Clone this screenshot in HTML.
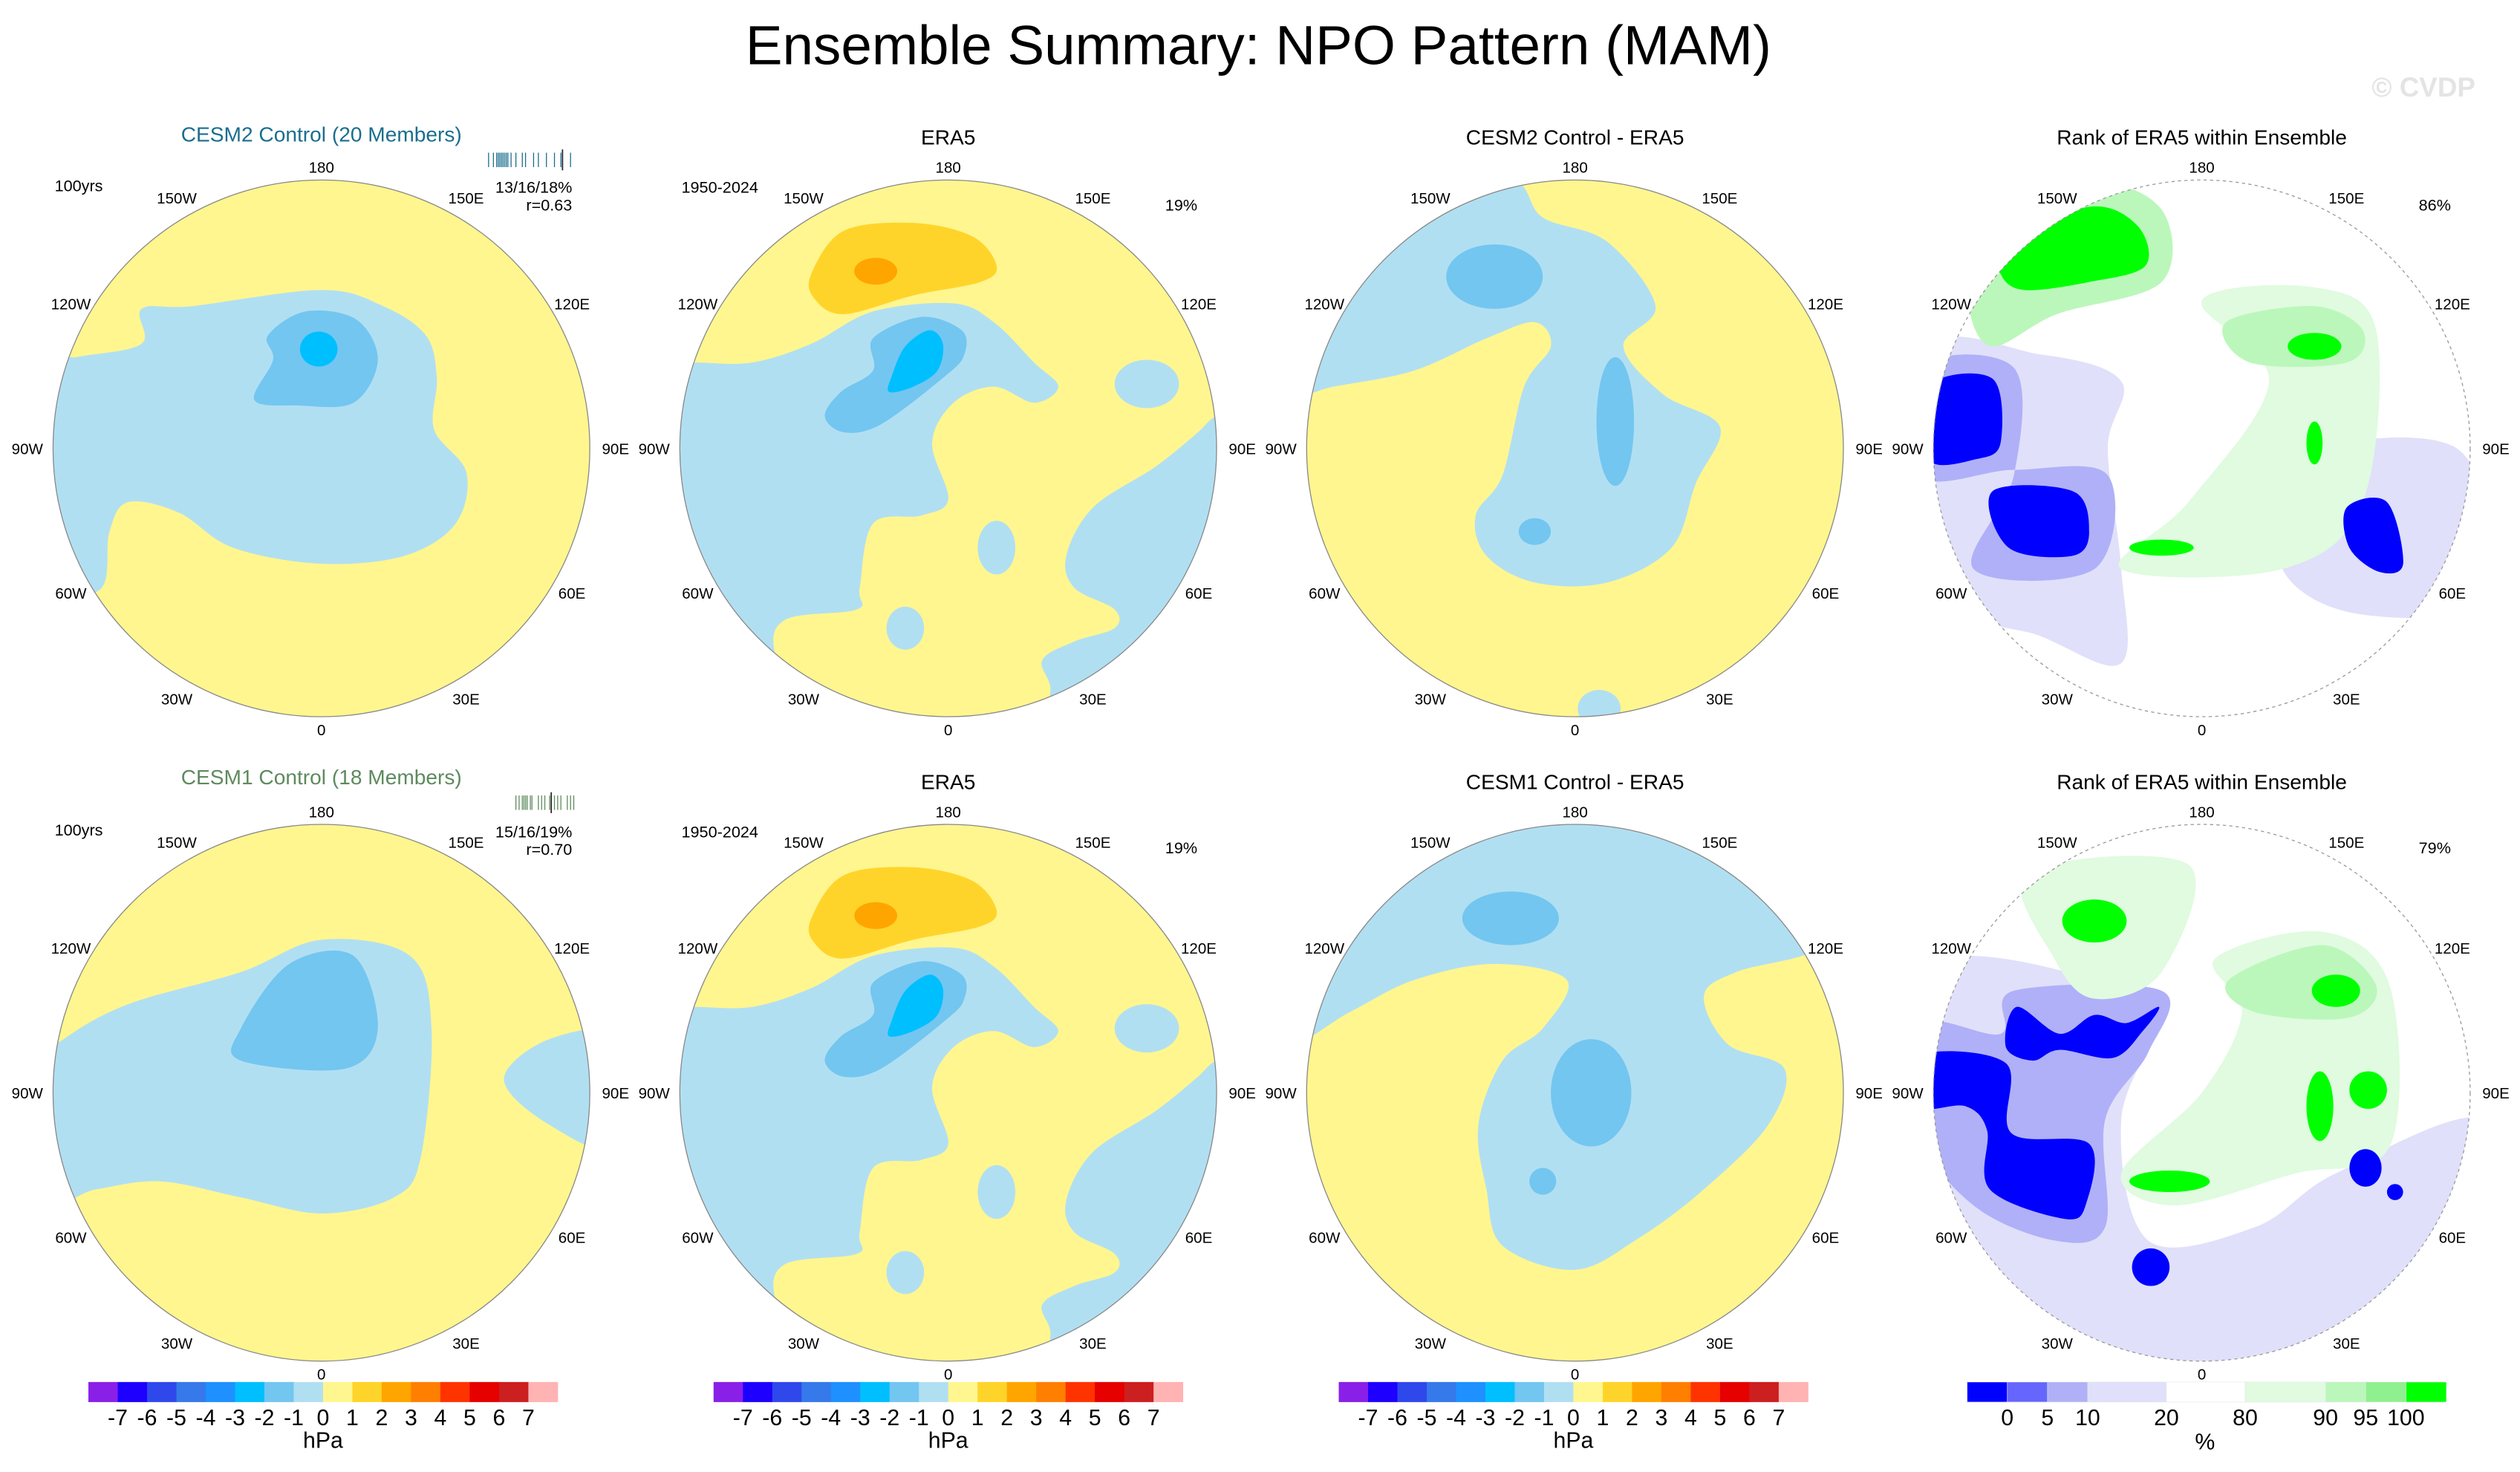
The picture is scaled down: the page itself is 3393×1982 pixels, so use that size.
<!DOCTYPE html>
<html><head><meta charset="utf-8"><title>Ensemble Summary: NPO Pattern (MAM)</title>
<style>html,body{margin:0;padding:0;background:#fff;}svg{display:block;font-family:"Liberation Sans",sans-serif;}</style>
</head><body>
<svg id="chart" xmlns="http://www.w3.org/2000/svg" width="3393" height="1982" viewBox="0 0 1568 916" preserveAspectRatio="none">
<text x="783" y="40" font-size="34.5" text-anchor="middle" fill="#000">Ensemble Summary: NPO Pattern (MAM)</text>
<text x="1508" y="60" font-size="17" font-weight="bold" text-anchor="middle" fill="#e4e4e4">© CVDP</text>
<g id="panels"></g>
</svg>
<script>
// ---- colour scales (data) ----
const hpaLabels = ["-7","-6","-5","-4","-3","-2","-1","0","1","2","3","4","5","6","7"];
const hpaColors = ["#8a20e8","#1e00ff","#2e48ec","#3579ea","#1e90ff","#00bfff","#73c6f0","#b1dff2","#fff68f","#ffd42a","#ffa500","#ff7f00","#ff3300","#e60000","#cc1f1f","#ffb3b3"];
const rankLabels = ["0","5","10","20","80","90","95","100"];
const rankEdges = [-5,0,5,10,20,80,90,95,100,105];
const rankColors = ["#0000ff","#6666ff","#b0b0f8","#e0e0fa","#ffffff","#e0fbe0","#bbf7bb","#8ff08f","#00ff00"];
const lonLabels = ["180","0","90W","90E","150W","150E","120W","120E","60W","60E","30W","30E"];
const lonDegrees = [180,0,-90,90,-150,150,-120,120,-60,60,-30,30];

// ---- anomaly shapes, normalized map coords (unit circle) ----
const c2LightBlue = [[-0.67,-0.52],[-0.48,-0.53],[0,-0.59],[0.23,-0.53],[0.39,-0.42],[0.43,-0.26],[0.42,-0.07],[0.54,0.09],[0.5,0.28],[0.31,0.4],[0,0.43],[-0.33,0.37],[-0.53,0.24],[-0.72,0.2],[-0.79,0.31],[-0.83,0.53],[-1.1,0.5],[-1.1,-0.3],[-0.91,-0.34],[-0.67,-0.39]];
const c2MedBlue = [[-0.2,-0.42],[-0.06,-0.51],[0.13,-0.48],[0.21,-0.33],[0.12,-0.17],[-0.09,-0.16],[-0.25,-0.18],[-0.18,-0.33]];
const c2Cyan = [-0.01,-0.37,0.07,0.065];

const eraYellow = [[-0.94,-0.32],[-0.73,-0.32],[-0.51,-0.39],[-0.28,-0.51],[0.02,-0.54],[0.17,-0.47],[0.32,-0.32],[0.41,-0.23],[0.32,-0.17],[0.17,-0.23],[0.02,-0.17],[-0.06,-0.02],[0,0.19],[-0.1,0.25],[-0.28,0.28],[-0.33,0.52],[-0.34,0.6],[-0.61,0.64],[-0.64,0.79],[-0.5,1.1],[0.3,1.1],[0.38,0.91],[0.35,0.79],[0.47,0.72],[0.62,0.67],[0.62,0.6],[0.47,0.52],[0.44,0.4],[0.54,0.22],[0.77,0.07],[0.92,-0.05],[1.0,-0.12],[1.1,-0.12],[1.1,-1.1],[-1.1,-1.1],[-1.1,-0.32]];
const eraBlueSpots = [[0.74,-0.24,0.12,0.09],[0.18,0.37,0.07,0.1],[-0.16,0.67,0.07,0.08]];
const eraOrange = [[-0.51,-0.65],[-0.39,-0.81],[-0.13,-0.84],[0.09,-0.79],[0.18,-0.68],[0.12,-0.62],[-0.13,-0.57],[-0.39,-0.5],[-0.5,-0.56]];
const eraDarkOrange = [-0.27,-0.66,0.08,0.05];
const eraMedBlue = [[-0.28,-0.41],[-0.1,-0.49],[0.05,-0.44],[0.06,-0.35],[-0.01,-0.27],[-0.25,-0.09],[-0.39,-0.06],[-0.46,-0.12],[-0.4,-0.21],[-0.28,-0.29]];
const eraCyan = [[-0.16,-0.38],[-0.07,-0.44],[-0.02,-0.39],[-0.04,-0.29],[-0.13,-0.23],[-0.22,-0.21],[-0.21,-0.27]];

const d2LightBlue = [[-1.08,-0.47],[-0.9,-0.77],[-0.6,-0.92],[-0.24,-1.0],[-0.12,-0.86],[0.12,-0.77],[0.3,-0.53],[0.18,-0.38],[0.33,-0.2],[0.54,-0.08],[0.45,0.13],[0.36,0.37],[0.12,0.5],[-0.15,0.5],[-0.33,0.4],[-0.37,0.25],[-0.27,0.1],[-0.19,-0.23],[-0.09,-0.38],[-0.15,-0.47],[-0.33,-0.41],[-0.6,-0.29],[-0.9,-0.23],[-1.08,-0.2]];
const d2BlueSpot = [0.09,0.97,0.08,0.07];
const d2MedBlue = [[-0.3,-0.64,0.18,0.12],[0.15,-0.1,0.07,0.24],[-0.15,0.31,0.06,0.05]];

const c1LightBlue = [[-0.72,-0.33],[-0.3,-0.45],[0,-0.57],[0.33,-0.51],[0.41,-0.24],[0.37,0.24],[0.27,0.39],[0,0.45],[-0.3,0.39],[-0.6,0.33],[-0.84,0.36],[-1.05,0.4],[-1.05,-0.1],[-0.96,-0.2]];
const c1RightBlue = [[0.68,-0.05],[0.85,-0.2],[1.1,-0.2],[1.1,0.2],[0.85,0.12]];
const c1MedBlue = [[-0.3,-0.24],[-0.12,-0.48],[0.12,-0.51],[0.21,-0.24],[0.09,-0.09],[-0.3,-0.12]];

const d1LightBlue = [[-1.08,-0.48],[-0.84,-0.84],[-0.36,-0.99],[0.36,-0.96],[0.78,-0.72],[0.9,-0.54],[0.6,-0.45],[0.48,-0.36],[0.57,-0.18],[0.78,-0.09],[0.72,0.12],[0.48,0.36],[0.24,0.54],[0,0.66],[-0.27,0.57],[-0.33,0.36],[-0.36,0.12],[-0.27,-0.12],[-0.12,-0.24],[-0.03,-0.42],[-0.3,-0.48],[-0.6,-0.42],[-0.84,-0.3],[-1.08,-0.18]];
const d1MedBlue = [[-0.24,-0.65,0.18,0.1],[0.06,0.0,0.15,0.2],[-0.12,0.33,0.05,0.05]];

// rank maps
const r2Lavender = [[-1.05,-0.35],[-0.6,-0.35],[-0.3,-0.25],[-0.35,0],[-0.3,0.45],[-0.3,0.8],[-0.6,0.7],[-1.05,0.5]];
const r2LavenderR = [[0.3,0.05],[0.95,0.0],[1.05,0.55],[0.6,0.62],[0.3,0.45]];
const r2MidLav = [[-1.05,-0.3],[-0.7,-0.3],[-0.7,0.1],[-0.85,0.45],[-0.4,0.45],[-0.35,0.1],[-0.7,0.08],[-1.05,0.1]];
const r2LightGreen = [[-0.87,-0.77],[-0.42,-0.98],[-0.15,-0.89],[-0.15,-0.62],[-0.54,-0.5],[-0.78,-0.38],[-0.87,-0.53]];
const r2LightGreenR = [[0.0,-0.55],[0.42,-0.6],[0.65,-0.44],[0.6,0.2],[0.3,0.45],[-0.3,0.45],[-0.05,0.2],[0.25,-0.25]];
const r2MidGreenR = [[0.09,-0.47],[0.42,-0.53],[0.6,-0.44],[0.54,-0.32],[0.18,-0.32]];
const r2Green = [[-0.75,-0.77],[-0.42,-0.9],[-0.24,-0.83],[-0.21,-0.68],[-0.42,-0.62],[-0.66,-0.59],[-0.75,-0.65]];
const r2GreenSpots = [[0.42,-0.38,0.1,0.05],[0.42,-0.02,0.03,0.08],[-0.15,0.37,0.12,0.03]];
const r2Blue = [[-1.02,-0.23],[-0.78,-0.26],[-0.75,-0.02],[-0.84,0.04],[-1.02,0.04]];
const r2Blue2 = [[-0.78,0.16],[-0.48,0.16],[-0.42,0.31],[-0.48,0.4],[-0.72,0.37]];
const r2Blue3 = [[0.54,0.22],[0.69,0.2],[0.75,0.43],[0.66,0.46],[0.55,0.37]];

const r1Lavender = [[-1.05,-0.45],[-0.3,-0.4],[-0.15,-0.3],[-0.3,0.1],[-0.2,0.55],[0.2,0.5],[0.5,0.3],[1.05,0.1],[1.05,0.6],[0.6,1.05],[-0.3,1.05],[-0.7,0.75],[-1.05,0.5]];
const r1MidLav = [[-1.05,-0.25],[-0.75,-0.22],[-0.7,-0.38],[-0.15,-0.38],[-0.2,-0.15],[-0.36,0.1],[-0.36,0.5],[-0.55,0.55],[-0.85,0.42],[-1.05,0.15]];
const r1LightGreen = [[-0.65,-0.82],[-0.05,-0.85],[-0.15,-0.45],[-0.4,-0.35],[-0.55,-0.5]];
const r1LightGreenR = [[0.05,-0.5],[0.45,-0.6],[0.7,-0.4],[0.7,0.2],[0.35,0.3],[-0.1,0.42],[-0.3,0.3],[0.0,0.0],[0.15,-0.3]];
const r1MidGreen = [[0.1,-0.42],[0.45,-0.55],[0.65,-0.4],[0.55,-0.28],[0.2,-0.3]];
const r1GreenSpots = [[-0.4,-0.64,0.12,0.08],[0.5,-0.38,0.09,0.06],[0.44,0.05,0.05,0.13],[0.62,-0.01,0.07,0.07],[-0.12,0.33,0.15,0.04]];
const r1Blue = [[-1.05,-0.14],[-0.73,-0.11],[-0.71,0.15],[-0.42,0.19],[-0.43,0.41],[-0.51,0.47],[-0.79,0.36],[-0.8,0.14],[-0.88,0.05],[-1.05,0.05]];
const r1Blue2 = [[-0.73,-0.17],[-0.69,-0.32],[-0.53,-0.22],[-0.4,-0.29],[-0.28,-0.26],[-0.16,-0.32],[-0.22,-0.23],[-0.33,-0.13],[-0.53,-0.16],[-0.63,-0.12]];
const r1BlueSpots = [[-0.19,0.65,0.07,0.07],[0.61,0.28,0.06,0.07],[0.72,0.37,0.03,0.03]];

const NS = "http://www.w3.org/2000/svg";
const root = document.getElementById("panels");
const R = 167;
function mk(tag, attrs, parent){const e=document.createElementNS(NS,tag);for(const k in attrs)e.setAttribute(k,attrs[k]);(parent||root).appendChild(e);return e;}
function px(cx,v){return cx+v*R;}
function smoothPath(cx,cy,pts){
  const P=pts.map(p=>[px(cx,p[0]),px(cy,p[1])]);const n=P.length;let d="M"+P[0][0].toFixed(1)+","+P[0][1].toFixed(1);
  for(let i=0;i<n;i++){const p0=P[(i-1+n)%n],p1=P[i],p2=P[(i+1)%n],p3=P[(i+2)%n];
    const c1=[p1[0]+(p2[0]-p0[0])/6,p1[1]+(p2[1]-p0[1])/6],c2=[p2[0]-(p3[0]-p1[0])/6,p2[1]-(p3[1]-p1[1])/6];
    d+="C"+c1[0].toFixed(1)+","+c1[1].toFixed(1)+" "+c2[0].toFixed(1)+","+c2[1].toFixed(1)+" "+p2[0].toFixed(1)+","+p2[1].toFixed(1);}
  return d+"Z";}
function shape(g,cx,cy,pts,fill,name){const e=mk("path",{d:smoothPath(cx,cy,pts),fill:fill},g);
  
  }
function ell(g,cx,cy,el,fill,name){const e=mk("ellipse",{cx:px(cx,el[0]),cy:px(cy,el[1]),rx:el[2]*R,ry:el[3]*R,fill:fill},g);
  
  }

let clipId=0;
function panel(cx,cy,base,draw,dashed,name){
  const g=mk("g",{});
  
  
  const id="clip"+(clipId++);
  const cp=mk("clipPath",{id:id},g);mk("circle",{cx:cx,cy:cy,r:R},cp);
  const m=mk("g",{"clip-path":"url(#"+id+")"},g);
  const bg=mk("circle",{cx:cx,cy:cy,r:R,fill:base},m);
  
  
  draw(m,cx,cy);
  const ring=mk("circle",{cx:cx,cy:cy,r:R,fill:"none",stroke:dashed?"#999":"#888","stroke-width":0.6,"stroke-dasharray":dashed?"2,2":"none"},g);
  
  
  for(let i=0;i<lonLabels.length;i++){const a=lonDegrees[i]*Math.PI/180;
    const rr=(Math.abs(lonDegrees[i])==90)?183:((lonDegrees[i]==0||lonDegrees[i]==180)?175:180);
    const t=mk("text",{x:cx+rr*Math.sin(a),y:cy+rr*Math.cos(a)+3.5,"font-size":9.5,"text-anchor":"middle",fill:"#000"},g);
    t.textContent=lonLabels[i];
    
    }
  return g;}
function label(x,y,txt,size,anchor,fill,name){const t=mk("text",{x:x,y:y,"font-size":size,"text-anchor":anchor,fill:fill});t.textContent=txt;
  
  }

const C=hpaColors;
function drawEra(g,cx,cy){shape(g,cx,cy,eraYellow,C[8],"positive-region");
  eraBlueSpots.forEach(s=>ell(g,cx,cy,s,C[7],"negative-spot"));
  shape(g,cx,cy,eraOrange,C[9],"positive-2hpa-region");ell(g,cx,cy,eraDarkOrange,C[10],"positive-3hpa-region");
  shape(g,cx,cy,eraMedBlue,C[6],"negative-2hpa-region");shape(g,cx,cy,eraCyan,C[5],"negative-3hpa-region");}

const colX=[200,590,980,1370], rowY=[279,680];
panel(colX[0],rowY[0],C[8],(g,cx,cy)=>{shape(g,cx,cy,c2LightBlue,C[7],"negative-region");shape(g,cx,cy,c2MedBlue,C[6],"negative-2hpa-region");ell(g,cx,cy,c2Cyan,C[5],"negative-3hpa-region");},false,"cesm2-pattern-map");
panel(colX[1],rowY[0],C[7],drawEra,false,"era5-pattern-map-top");
panel(colX[2],rowY[0],C[8],(g,cx,cy)=>{shape(g,cx,cy,d2LightBlue,C[7],"negative-region");ell(g,cx,cy,d2BlueSpot,C[7],"negative-spot");d2MedBlue.forEach(s=>ell(g,cx,cy,s,C[6],"negative-2hpa-region"));},false,"cesm2-minus-era5-map");
panel(colX[3],rowY[0],"#ffffff",(g,cx,cy)=>{const RC=rankColors;
  shape(g,cx,cy,r2Lavender,RC[3],"rank-10-20");shape(g,cx,cy,r2LavenderR,RC[3],"rank-10-20");shape(g,cx,cy,r2MidLav,RC[2],"rank-5-10");
  shape(g,cx,cy,r2LightGreenR,RC[5],"rank-80-90");shape(g,cx,cy,r2LightGreen,RC[6],"rank-90-95");shape(g,cx,cy,r2MidGreenR,RC[6],"rank-90-95");
  shape(g,cx,cy,r2Green,RC[8],"rank-95-100");r2GreenSpots.forEach(s=>ell(g,cx,cy,s,RC[8],"rank-95-100"));
  shape(g,cx,cy,r2Blue,RC[0],"rank-0-5");shape(g,cx,cy,r2Blue2,RC[0],"rank-0-5");shape(g,cx,cy,r2Blue3,RC[0],"rank-0-5");},true,"rank-map-top");
panel(colX[0],rowY[1],C[8],(g,cx,cy)=>{shape(g,cx,cy,c1LightBlue,C[7],"negative-region");shape(g,cx,cy,c1RightBlue,C[7],"negative-region");shape(g,cx,cy,c1MedBlue,C[6],"negative-2hpa-region");},false,"cesm1-pattern-map");
panel(colX[1],rowY[1],C[7],drawEra,false,"era5-pattern-map-bottom");
panel(colX[2],rowY[1],C[8],(g,cx,cy)=>{shape(g,cx,cy,d1LightBlue,C[7],"negative-region");d1MedBlue.forEach(s=>ell(g,cx,cy,s,C[6],"negative-2hpa-region"));},false,"cesm1-minus-era5-map");
panel(colX[3],rowY[1],"#ffffff",(g,cx,cy)=>{const RC=rankColors;
  shape(g,cx,cy,r1Lavender,RC[3],"rank-10-20");shape(g,cx,cy,r1MidLav,RC[2],"rank-5-10");
  shape(g,cx,cy,r1LightGreen,RC[5],"rank-80-90");shape(g,cx,cy,r1LightGreenR,RC[5],"rank-80-90");shape(g,cx,cy,r1MidGreen,RC[6],"rank-90-95");
  r1GreenSpots.forEach(s=>ell(g,cx,cy,s,RC[8],"rank-95-100"));
  shape(g,cx,cy,r1Blue,RC[0],"rank-0-5");shape(g,cx,cy,r1Blue2,RC[0],"rank-0-5");r1BlueSpots.forEach(s=>ell(g,cx,cy,s,RC[0],"rank-0-5"));},true,"rank-map-bottom");

label(200,88,"CESM2 Control (20 Members)",13,"middle","#1a6e8e","cesm2-title");
label(590,90,"ERA5",13,"middle","#000","era5-title-top");
label(980,90,"CESM2 Control - ERA5",13,"middle","#000","cesm2-diff-title");
label(1370,90,"Rank of ERA5 within Ensemble",13,"middle","#000","rank-title-top");
label(200,488,"CESM1 Control (18 Members)",13,"middle","#5e8a5e","cesm1-title");
label(590,491,"ERA5",13,"middle","#000","era5-title-bottom");
label(980,491,"CESM1 Control - ERA5",13,"middle","#000","cesm1-diff-title");
label(1370,491,"Rank of ERA5 within Ensemble",13,"middle","#000","rank-title-bottom");
label(34,119,"100yrs",10,"start","#000","years-label-top");
label(34,520,"100yrs",10,"start","#000","years-label-bottom");
label(356,120,"13/16/18%",10,"end","#000","cesm2-stats");
label(356,131,"r=0.63",10,"end","#000","cesm2-corr");
label(356,521,"15/16/19%",10,"end","#000","cesm1-stats");
label(356,532,"r=0.70",10,"end","#000","cesm1-corr");
label(424,120,"1950-2024",10,"start","#000","era5-years-top");
label(424,521,"1950-2024",10,"start","#000","era5-years-bottom");
label(745,131,"19%",10,"end","#000","era5-pct-top");
label(745,531,"19%",10,"end","#000","era5-pct-bottom");
label(1525,131,"86%",10,"end","#000","rank-pct-top");
label(1525,531,"79%",10,"end","#000","rank-pct-bottom");
const barMembers2=[304,307,309,310,311,312,313,314,315,316,318,321,325,327,332,335,340,345,349,355];
const barMembers1=[321,323,325,326,327,328,330,331,335,337,339,342,345,347,349,353,355,357];
function memberBars(xs,y,color,obsX,name){xs.forEach(x=>{const l=mk("line",{x1:x,x2:x,y1:y+2,y2:y+11,stroke:color,"stroke-width":0.6});
  
  });
  const o=mk("line",{x1:obsX,x2:obsX,y1:y,y2:y+13,stroke:"#222","stroke-width":0.8});
  
  }
memberBars(barMembers2,93,"#1a6e8e",350,"cesm2-member-bar");
memberBars(barMembers1,493,"#5e8a5e",343,"cesm1-member-bar");

function hpaBar(x0,name){const w=(347-55)/16;const g=mk("g",{});
  
  
  hpaColors.forEach((c,i)=>{const r=mk("rect",{x:x0+i*w,y:860,width:w+0.2,height:12.5,fill:c},g);
    
    });
  hpaLabels.forEach((t,i)=>{const e=mk("text",{x:x0+(i+1)*w,y:887,"font-size":14,"text-anchor":"middle",fill:"#000"},g);e.textContent=t;
    
    });
  const u=mk("text",{x:x0+8*w,y:901,"font-size":14,"text-anchor":"middle",fill:"#000"},g);u.textContent="hPa";
  
  }
hpaBar(55,"colorbar-cesm2");hpaBar(444,"colorbar-era5");hpaBar(833,"colorbar-diff");
(function(){const g=mk("g",{});
  
  
  const bx=[1224,1249,1274,1299,1348,1397,1447,1472,1497,1522];
  rankColors.forEach((c,i)=>{const r=mk("rect",{x:bx[i],y:860,width:bx[i+1]-bx[i]+0.2,height:12.5,fill:c,stroke:"#e8e8e8","stroke-width":0.3},g);
    
    });
  rankLabels.forEach((t,i)=>{const e=mk("text",{x:bx[i+1],y:887,"font-size":14,"text-anchor":"middle",fill:"#000"},g);e.textContent=t;
    
    });
  const u=mk("text",{x:1372,y:902,"font-size":14,"text-anchor":"middle",fill:"#000"},g);u.textContent="%";
  
  })();
</script>
</body></html>
